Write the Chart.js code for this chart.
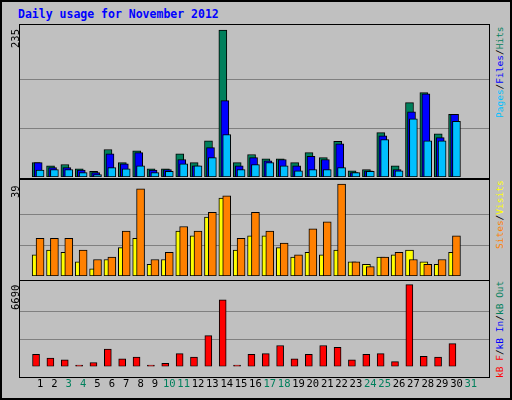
<!DOCTYPE html>
<html><head><meta charset="utf-8">
<script src="https://cdn.jsdelivr.net/npm/chart.js@4"></script>
<style>
body{margin:0;background:#fff}
#wrap{position:absolute;left:0;top:0;width:508px;height:396px;background:#c0c0c0;border:2px solid #000;}
.abs{position:absolute}
.panel{position:absolute;left:19px;width:471px;border:1px solid #000;box-sizing:border-box}
.rot{position:absolute;font:9.5px "DejaVu Sans Mono",monospace;white-space:nowrap;transform-origin:0 0;transform:rotate(-90deg)}
</style></head><body>
<div id="wrap"></div>
<div class="abs" style="left:18px;top:7px;font:bold 11.5px 'DejaVu Sans Mono',monospace;color:#0000ff">Daily usage for November 2012</div>
<div class="panel" style="top:24px;height:155px"></div>
<div class="panel" style="top:179px;height:102px"></div>
<div class="panel" style="top:280px;height:98px"></div>
<canvas id="c1" class="abs" style="left:20px;top:25px;width:469px;height:152px"></canvas>
<canvas id="c2" class="abs" style="left:20px;top:180px;width:469px;height:96px"></canvas>
<canvas id="c3" class="abs" style="left:20px;top:281px;width:469px;height:114px"></canvas>
<div class="rot" style="left:9px;top:48px;font-size:10.5px">235</div>
<div class="rot" style="left:9px;top:198px;font-size:10.5px">39</div>
<div class="rot" style="left:9px;top:310px;font-size:10.5px">6690</div>
<div class="rot" style="left:494px;top:118px"><span style="color:#00c0ff">Pages</span><span>/</span><span style="color:#0000ff">Files</span><span>/</span><span style="color:#00805c">Hits</span></div>
<div class="rot" style="left:494px;top:249px"><span style="color:#ff8000">Sites</span><span>/</span><span style="color:#ffff00">Visits</span></div>
<div class="rot" style="left:494px;top:378px"><span style="color:#ff0000">kB F</span><span>/</span><span style="color:#0000ff">kB In</span><span>/</span><span style="color:#00805c">kB Out</span></div>
<script>
const days=[1,2,3,4,5,6,7,8,9,10,11,12,13,14,15,16,17,18,19,20,21,22,23,24,25,26,27,28,29,30,31];
const weekend=[3,4,10,11,17,18,24,25,31];
const hits=[23,18,20,13,9,44,23,42,13,13,37,23,58,235,23,36,29,29,23,39,31,57,10,12,71,18,119,135,69,100,null];
const files=[23,15,15,11,7,37,21,39,11,12,28,18,47,122,18,31,26,28,18,33,28,53,7,10,66,12,104,133,63,100,null];
const pages=[11,12,12,7,4,15,13,18,7,9,21,18,31,68,12,20,23,18,10,12,12,15,7,9,60,10,93,58,58,89,null];
const visits=[9,11,10,6,3,7,12,16,5,7,19,17,25,33,11,17,17,12,8,10,9,11,6,5,8,9,11,6,5,10,null];
const sites=[16,16,16,11,7,8,19,37,7,10,21,19,27,34,16,27,19,14,9,20,23,39,6,4,8,10,7,5,7,17,null];
const kbF=[977,684,537,98,317,1416,610,757,98,244,1050,757,2515,5446,98,977,1050,1709,610,977,1709,1563,537,977,1050,391,6690,830,757,1856,null];

function pts(arr,off){return arr.map((v,i)=>({x:days[i]+off,y:v}));}
function ds(arr,off,color,w,order){return {data:pts(arr,off),backgroundColor:color,borderColor:'#000',borderWidth:1,barThickness:w,order:order,grouped:false,borderSkipped:false};}
function opts(max,ymax,showX){
 return {responsive:false,animation:false,devicePixelRatio:1,
  layout:{padding:0},
  plugins:{legend:{display:false},tooltip:{enabled:false}},
  scales:{
   x:{type:'linear',min:0.13,max:31.74,display:showX,grid:{display:false},border:{display:false},
      afterBuildTicks:s=>{s.ticks=days.map(d=>({value:d}));},
      ticks:{font:{family:'DejaVu Sans Mono',size:10.5},padding:4,maxRotation:0,autoSkip:false,
        color:c=>weekend.includes(c.tick.value)?'#00805c':'#000',callback:v=>String(v)}},
   y:{min:0,max:ymax,display:true,border:{display:false},
      afterBuildTicks:s=>{s.ticks=[{value:max/3},{value:2*max/3}];},
      ticks:{display:false},grid:{color:'#808080',lineWidth:1,drawTicks:false}}
  }};
}
new Chart(document.getElementById('c1'),{type:'bar',data:{datasets:[
 ds(hits,-0.27,'#00805c',8,3),ds(files,-0.13,'#0000ff',8,2),ds(pages,0,'#00c0ff',8,1)]},
 options:opts(235,243,false)});
new Chart(document.getElementById('c2'),{type:'bar',data:{datasets:[
 ds(visits,-0.27,'#ffff00',8,2),ds(sites,0,'#ff8000',8,1)]},
 options:opts(39,40.7,false)});
new Chart(document.getElementById('c3'),{type:'bar',data:{datasets:[
 ds(kbF,-0.28,'#ff0000',7,1)]},
 options:opts(6690,6983,true)});
</script></body></html>
